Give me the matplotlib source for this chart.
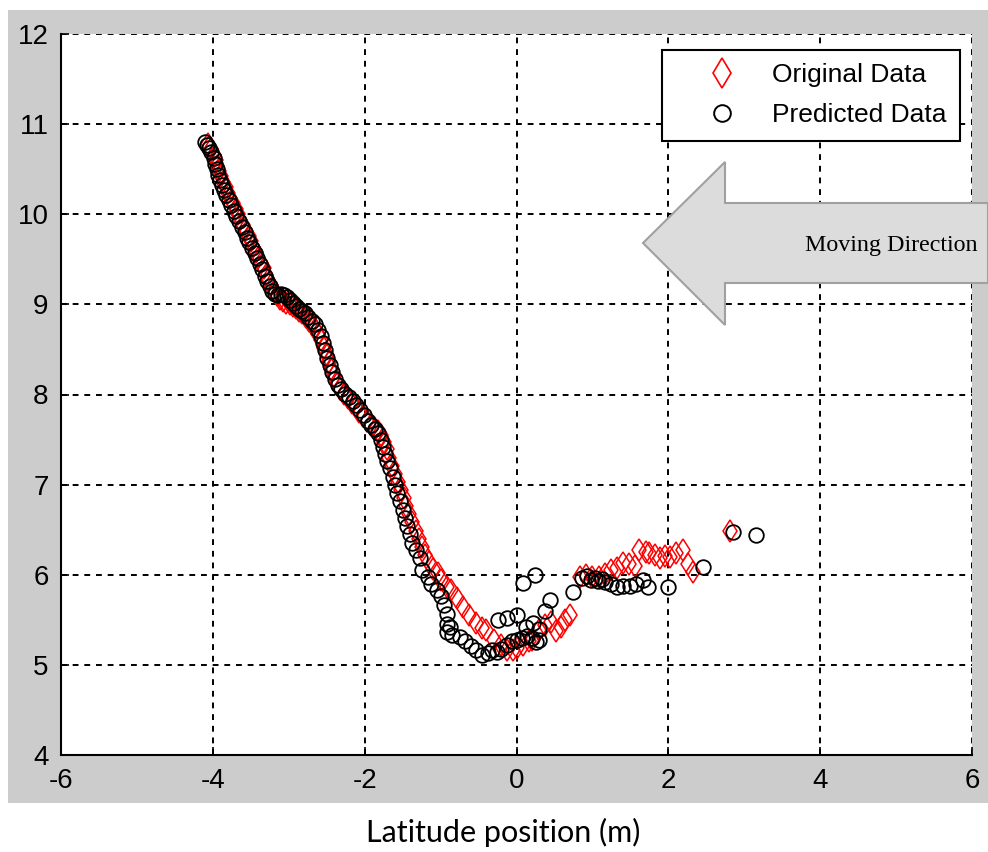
import matplotlib
matplotlib.use("Agg")
import matplotlib.pyplot as plt
from matplotlib.patches import Polygon, Rectangle
from matplotlib.lines import Line2D

# Original data (red diamonds)
orig_x = [-4.07, -4.05, -4.02, -3.99, -3.96, -3.94, -3.92, -3.89, -3.86, -3.83,
          -3.80, -3.77, -3.74, -3.70, -3.67, -3.64, -3.60, -3.57, -3.53, -3.50,
          -3.47, -3.43, -3.40, -3.37, -3.33, -3.30, -3.27, -3.23, -3.20, -3.16,
          -3.12, -3.08, -3.03, -2.99, -2.95, -2.91, -2.86, -2.82, -2.77, -2.73,
          -2.69, -2.65, -2.61, -2.57, -2.54, -2.50, -2.47, -2.44, -2.40, -2.36,
          -2.32, -2.27, -2.22, -2.17, -2.12, -2.07, -2.02, -1.97, -1.92, -1.87,
          -1.82, -1.78, -1.74, -1.71, -1.68, -1.64, -1.60, -1.56, -1.52, -1.48,
          -1.45, -1.41, -1.37, -1.33, -1.29, -1.25, -1.20, -1.15, -1.10, -1.04,
          -0.99, -0.92, -0.86, -0.79, -0.71, -0.62, -0.53, -0.46, -0.40, -0.29,
          -0.21, -0.13, -0.05, 0.00, 0.08, 0.16, 0.21, 0.30, 0.38, 0.46,
          0.52, 0.58, 0.64, 0.70, 0.83, 0.92, 1.00, 1.09, 1.17, 1.25,
          1.32, 1.40, 1.48, 1.56, 1.62, 1.70, 1.75, 1.82, 1.89, 1.96,
          2.02, 2.10, 2.19, 2.26, 2.32, 2.81]
orig_y = [10.78, 10.75, 10.72, 10.66, 10.60, 10.54, 10.48, 10.42, 10.36, 10.30,
          10.24, 10.18, 10.12, 10.06, 10.00, 9.94, 9.88, 9.82, 9.76, 9.70,
          9.64, 9.58, 9.52, 9.46, 9.40, 9.33, 9.27, 9.21, 9.15, 9.10,
          9.06, 9.04, 9.02, 9.00, 8.98, 8.96, 8.93, 8.90, 8.86, 8.82,
          8.78, 8.73, 8.67, 8.60, 8.52, 8.44, 8.36, 8.28, 8.20, 8.12,
          8.06, 8.01, 7.96, 7.91, 7.86, 7.81, 7.76, 7.71, 7.66, 7.62,
          7.60, 7.55, 7.47, 7.39, 7.30, 7.21, 7.12, 7.03, 6.94, 6.85,
          6.76, 6.67, 6.58, 6.49, 6.40, 6.31, 6.22, 6.14, 6.06, 6.02,
          5.94, 5.86, 5.83, 5.74, 5.64, 5.55, 5.46, 5.41, 5.39, 5.28,
          5.22, 5.17, 5.16, 5.19, 5.22, 5.26, 5.28, 5.39, 5.44, 5.48,
          5.38, 5.42, 5.50, 5.55, 5.98, 6.00, 5.97, 5.98, 6.01, 6.05,
          6.08, 6.13, 6.12, 6.10, 6.27, 6.25, 6.24, 6.22, 6.19, 6.21,
          6.20, 6.24, 6.27, 6.12, 6.03, 6.48]

# Predicted data (black circles)
pred_x = [-4.10, -4.08, -4.05, -4.02, -3.99, -3.97, -3.95, -3.93, -3.91, -3.88,
          -3.85, -3.82, -3.79, -3.76, -3.72, -3.69, -3.66, -3.62, -3.58, -3.55,
          -3.52, -3.48, -3.45, -3.42, -3.38, -3.35, -3.31, -3.28, -3.25, -3.22,
          -3.18, -3.14, -3.10, -3.06, -3.02, -2.98, -2.94, -2.90, -2.86, -2.82,
          -2.78, -2.74, -2.70, -2.66, -2.62, -2.58, -2.55, -2.52, -2.49, -2.46,
          -2.43, -2.39, -2.35, -2.31, -2.26, -2.21, -2.16, -2.11, -2.06, -2.01,
          -1.96, -1.91, -1.86, -1.82, -1.79, -1.76, -1.73, -1.70, -1.66, -1.63,
          -1.60, -1.57, -1.53, -1.50, -1.47, -1.44, -1.40, -1.37, -1.32, -1.27,
          -1.24, -1.17, -1.12, -1.05, -1.00, -0.95, -0.92, -0.92, -0.88, -0.91,
          -0.85, -0.75, -0.68, -0.60, -0.53, -0.45, -0.38, -0.32, -0.26, -0.20,
          -0.13, -0.06, 0.00, 0.07, 0.14, 0.20, 0.26, 0.30, -0.25, -0.12,
          0.01, 0.13, 0.22, 0.30, 0.37, 0.44, 0.08, 0.24, 0.74, 0.86,
          0.93, 0.98, 1.03, 1.08, 1.12, 1.17, 1.24, 1.32, 1.40, 1.49,
          1.58, 1.66, 1.73, 2.00, 2.46, 2.85, 3.15]
pred_y = [10.80, 10.77, 10.74, 10.69, 10.62, 10.56, 10.50, 10.44, 10.38, 10.33,
          10.27, 10.21, 10.16, 10.10, 10.04, 9.98, 9.92, 9.86, 9.80, 9.74,
          9.69, 9.63, 9.57, 9.51, 9.45, 9.39, 9.32, 9.26, 9.20, 9.15,
          9.12, 9.10, 9.11, 9.10, 9.08, 9.05, 9.02, 8.98, 8.95, 8.93,
          8.90, 8.86, 8.82, 8.78, 8.72, 8.65, 8.57, 8.49, 8.41, 8.33,
          8.25, 8.17, 8.10, 8.06, 8.01, 7.97, 7.93, 7.88, 7.83, 7.77,
          7.71, 7.66, 7.62, 7.57, 7.50, 7.42, 7.34, 7.26, 7.18, 7.09,
          7.00, 6.91, 6.82, 6.72, 6.63, 6.54, 6.45, 6.35, 6.27, 6.19,
          6.05, 5.97, 5.90, 5.83, 5.76, 5.66, 5.57, 5.45, 5.42, 5.36,
          5.33, 5.31, 5.26, 5.21, 5.17, 5.11, 5.13, 5.17, 5.14, 5.18,
          5.22, 5.26, 5.28, 5.30, 5.32, 5.30, 5.25, 5.28, 5.50, 5.52,
          5.55, 5.42, 5.46, 5.40, 5.60, 5.72, 5.91, 6.00, 5.81, 5.96,
          5.99, 5.94, 5.96, 5.93, 5.95, 5.92, 5.90, 5.86, 5.87, 5.87,
          5.90, 5.94, 5.86, 5.86, 6.09, 6.47, 6.44]

x_ticks = [-6, -4, -2, 0, 2, 4, 6]
y_ticks = [4, 5, 6, 7, 8, 9, 10, 11, 12]

plt.rcParams['font.family'] = ['Liberation Sans', 'DejaVu Sans']
plt.rcParams['axes.unicode_minus'] = False

fig = plt.figure(figsize=(9.88, 8.52), dpi=100, facecolor='white')

# grey panel behind the axes (MATLAB figure background)
fig.patches.append(Rectangle((8 / 988, 49 / 852), 980 / 988, 793 / 852,
                             transform=fig.transFigure, facecolor='#cccccc',
                             edgecolor='none', zorder=-10))

ax = fig.add_axes([61 / 988, 97 / 852, 911 / 988, 721 / 852])
ax.set_facecolor('white')

ax.plot(orig_x, orig_y, linestyle='none', marker='d', markersize=11.5,
        markerfacecolor='none', markeredgecolor='red', markeredgewidth=1.1,
        label='Original Data')
ax.plot(pred_x, pred_y, linestyle='none', marker='o', markersize=10.5,
        markerfacecolor='none', markeredgecolor='black', markeredgewidth=1.3,
        label='Predicted Data')

ax.set_xlim(-6, 6)
ax.set_ylim(4, 12)
ax.set_xticks(x_ticks)
ax.set_yticks(y_ticks)
ax.tick_params(direction='in', length=6, width=1.2, labelsize=20, pad=9)
ax.grid(True, color='black', linestyle=(0, (3, 3)), linewidth=1.4)
ax.set_axisbelow(True)
for s in ['top', 'right']:
    ax.spines[s].set_visible(False)
for s in ['left', 'bottom']:
    ax.spines[s].set_linewidth(1.5)

handles = [
    Line2D([], [], linestyle='none', marker='d', markersize=15,
           markerfacecolor='none', markeredgecolor='red', markeredgewidth=1.2),
    Line2D([], [], linestyle='none', marker='o', markersize=12,
           markerfacecolor='none', markeredgecolor='black', markeredgewidth=1.4),
]
leg = ax.legend(handles, ['Original Data', 'Predicted Data'], loc='upper right',
                bbox_to_anchor=(0.987, 0.978), fontsize=19, frameon=True,
                fancybox=False, edgecolor='black', framealpha=1,
                handlelength=3.6, handletextpad=0.1, borderpad=0.5,
                labelspacing=0.62, borderaxespad=0)
leg.get_frame().set_linewidth(1.5)

# block arrow showing moving direction
W, H = 988, 852
arrow_px = [(643, 243), (725, 162), (725, 203), (988, 203),
            (988, 283), (725, 283), (725, 325)]
arrow = Polygon([(x / W, 1 - y / H) for x, y in arrow_px], closed=True,
                transform=fig.transFigure, facecolor='#dcdcdc',
                edgecolor='#a0a0a0', linewidth=1.5, zorder=5)
fig.patches.append(arrow)
fig.text(891 / W, 1 - 245 / H, 'Moving Direction', ha='center', va='center',
         fontsize=17.3, family=['Liberation Serif', 'DejaVu Serif'], zorder=6)

fig.text(503 / W, 1 - 832 / H, 'Latitude position (m)', ha='center',
         va='center', fontsize=22, family=['Lato', 'DejaVu Sans'])

fig.savefig('out.png', dpi=100, facecolor='white')
